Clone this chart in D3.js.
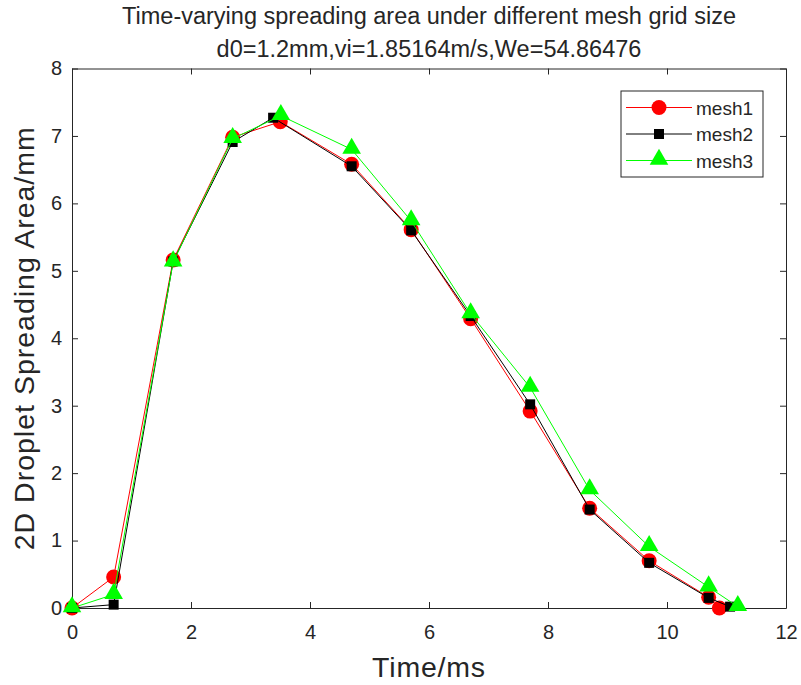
<!DOCTYPE html>
<html>
<head>
<meta charset="utf-8">
<script src="https://cdn.jsdelivr.net/npm/d3@7"></script>
<style>
  html, body { margin: 0; padding: 0; background: #fff; }
  svg { display: block; }
  text { font-family: "Liberation Sans", Arial, Helvetica, sans-serif; fill: #262626; }
</style>
</head>
<body>
<svg id="chart" width="801" height="685"></svg>
<script>
// Spreading area (mm) over time (ms) for three mesh resolutions
const mesh1T = [0, 0.7, 1.7, 2.7, 3.5, 4.7, 5.7, 6.7, 7.7, 8.7, 9.7, 10.7, 10.88];
const mesh1A = [0, 0.46, 5.16, 6.98, 7.21, 6.58, 5.61, 4.29, 2.92, 1.48, 0.70, 0.16, 0.0];
const mesh2T = [0, 0.7, 1.7, 2.7, 3.38, 4.7, 5.7, 6.7, 7.7, 8.7, 9.7, 10.7, 11.06];
const mesh2A = [0, 0.05, 5.14, 6.91, 7.27, 6.55, 5.60, 4.33, 3.02, 1.46, 0.67, 0.15, 0.02];
const mesh3T = [0, 0.7, 1.7, 2.7, 3.51, 4.7, 5.7, 6.7, 7.7, 8.7, 9.7, 10.7, 11.19];
const mesh3A = [0, 0.20, 5.13, 6.96, 7.30, 6.80, 5.74, 4.36, 3.27, 1.75, 0.91, 0.31, 0.02];

const seriesNames = ["mesh1", "mesh2", "mesh3"];
const xTicks = [0, 2, 4, 6, 8, 10, 12];
const yTicks = [0, 1, 2, 3, 4, 5, 6, 7, 8];

const titleLine1 = "Time-varying spreading area under different mesh grid size";
const titleLine2 = "d0=1.2mm,vi=1.85164m/s,We=54.86476";
const xLabel = "Time/ms";
const yLabel = "2D Droplet Spreading Area/mm";

const series = [
  { name: seriesNames[0], t: mesh1T, a: mesh1A, color: "#ff0000", marker: "circle" },
  { name: seriesNames[1], t: mesh2T, a: mesh2A, color: "#000000", marker: "square" },
  { name: seriesNames[2], t: mesh3T, a: mesh3A, color: "#00ff00", marker: "triangle" }
];

const svg = d3.select("#chart");
const m = { left: 72, right: 15, top: 68.5, bottom: 77 };
const W = 801, H = 685;
const x = d3.scaleLinear().domain([0, 12]).range([m.left, W - m.right]);
const y = d3.scaleLinear().domain([0, 8]).range([H - m.bottom, m.top]);

const axisColor = "#262626";

// axes with inward ticks on all four sides
const gx = svg.append("g").attr("transform", `translate(0,${y(0)})`)
  .call(d3.axisBottom(x).tickValues(xTicks).tickSizeInner(-6).tickSizeOuter(0).tickPadding(17));
const gxTop = svg.append("g").attr("transform", `translate(0,${y(8)})`)
  .call(d3.axisTop(x).tickValues(xTicks).tickSizeInner(-6).tickSizeOuter(0).tickFormat(""));
const gy = svg.append("g").attr("transform", `translate(${x(0)},0)`)
  .call(d3.axisLeft(y).tickValues(yTicks).tickSizeInner(-6).tickSizeOuter(0).tickPadding(10));
const gyR = svg.append("g").attr("transform", `translate(${x(12)},0)`)
  .call(d3.axisRight(y).tickValues(yTicks).tickSizeInner(-6).tickSizeOuter(0).tickFormat(""));

[gx, gxTop, gy, gyR].forEach(g => {
  g.selectAll("path").attr("stroke", axisColor).attr("stroke-width", 1);
  g.selectAll("line").attr("stroke", axisColor).attr("stroke-width", 1);
  g.selectAll("text").attr("font-size", 20).style("fill", axisColor)
    .attr("font-family", "Liberation Sans, Arial, sans-serif");
});

// titles
const cx = (x(0) + x(12)) / 2;
svg.append("text").attr("x", cx).attr("y", 23.5)
  .attr("text-anchor", "middle").attr("font-size", 23.5).text(titleLine1);
svg.append("text").attr("x", cx).attr("y", 56.5)
  .attr("text-anchor", "middle").attr("font-size", 23.5).text(titleLine2);

// axis labels
svg.append("text").attr("x", cx).attr("y", 676.5)
  .attr("text-anchor", "middle").attr("font-size", 28.5).attr("letter-spacing", 0.8).text(xLabel);
svg.append("text").attr("transform", `translate(34,${(y(0) + y(8)) / 2}) rotate(-90)`)
  .attr("text-anchor", "middle").attr("font-size", 28.5).attr("letter-spacing", 1).text(yLabel);

const symbolFor = {
  circle: d3.symbol().type(d3.symbolCircle).size(Math.PI * 7.5 * 7.5),
  square: d3.symbol().type(d3.symbolSquare).size(100),
  triangle: d3.symbol().type(d3.symbolTriangle).size(150)
};

const line = d3.line().x(d => x(d[0])).y(d => y(d[1]));

series.forEach(s => {
  const pts = s.t.map((t, i) => [t, s.a[i]]);
  const g = svg.append("g");
  g.append("path").datum(pts).attr("d", line)
    .attr("fill", "none").attr("stroke", s.color).attr("stroke-width", 1);
  g.selectAll("path.mk").data(pts).enter().append("path").attr("class", "mk")
    .attr("transform", d => `translate(${x(d[0])},${y(d[1]) + (s.marker === "triangle" ? -1 : 0)})`)
    .attr("d", symbolFor[s.marker]())
    .attr("fill", s.color);
});

// legend
const lg = svg.append("g").attr("transform", "translate(621,91)");
lg.append("rect").attr("width", 142).attr("height", 86)
  .attr("fill", "#fff").attr("stroke", axisColor).attr("stroke-width", 1);
series.forEach((s, i) => {
  const yy = 16.5 + i * 26.5;
  lg.append("line").attr("x1", 5).attr("x2", 71).attr("y1", yy).attr("y2", yy)
    .attr("stroke", s.color).attr("stroke-width", 1);
  lg.append("path").attr("transform", `translate(38,${yy + (s.marker === "triangle" ? -1 : 0)})`)
    .attr("d", symbolFor[s.marker]()).attr("fill", s.color);
  lg.append("text").attr("x", 75).attr("y", yy + 7).attr("font-size", 19).text(s.name);
});
</script>
</body>
</html>
